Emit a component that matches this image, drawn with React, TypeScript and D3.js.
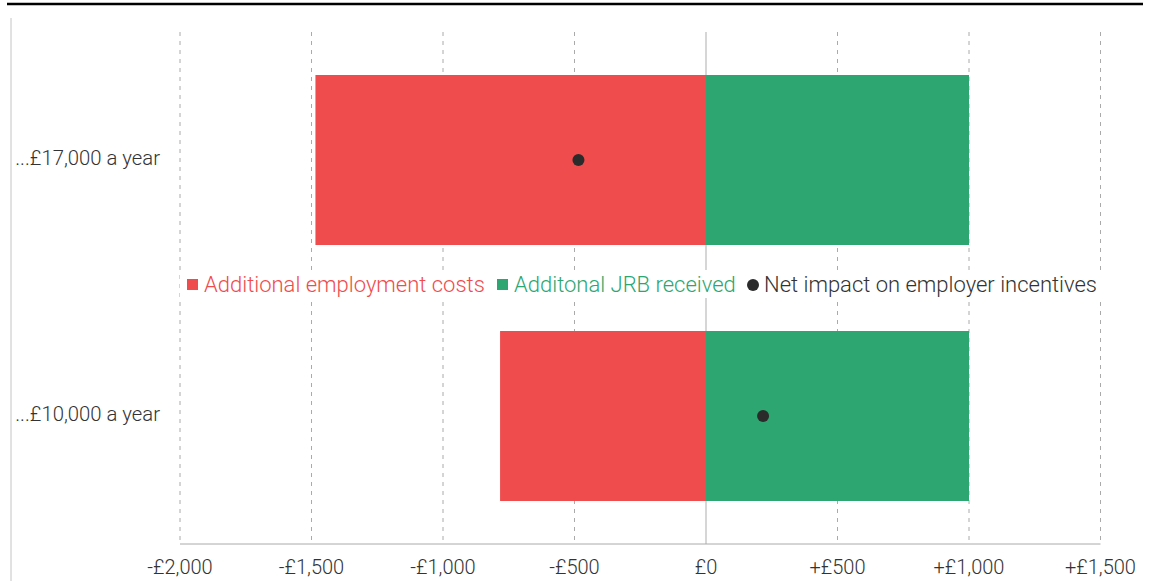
import * as d3 from 'd3';

const categories = ['...£17,000 a year', '...£10,000 a year'];
const employmentCosts = [-1485, -783];
const jrbReceived = [1000, 1000];
const netImpact = [-485, 217];
const tickValues = [-2000, -1500, -1000, -500, 0, 500, 1000, 1500];

const RED = '#ef4c4e';
const GREEN = '#2ea671';
const DARK = '#2b2b2b';
const FONT = 'Roboto, sans-serif';

const fmt = (v: number) => {
  if (v === 0) return '£0';
  const s = d3.format(',')(Math.abs(v));
  return (v < 0 ? '-£' : '+£') + s;
};

export default function App() {
  const width = 1150;
  const height = 581;
  const x = d3.scaleLinear().domain([-2000, 1500]).range([180, 1100.5]);
  const y = d3.scaleBand<string>().domain(categories).range([32, 544]).paddingInner(0.336).paddingOuter(0.168);
  const bw = y.bandwidth();
  const legendY = 284;

  return (
    <svg width={width} height={height} style={{ position: 'absolute', left: 0, top: 0, fontFamily: FONT }}>
      <rect width={width} height={height} fill="#fff" />
      {/* top rule and left border */}
      <line x1={7} x2={1143} y1={4} y2={4} stroke="#000" strokeWidth={2.5} />
      <line x1={11} x2={11} y1={18} y2={581} stroke="#c4c4c4" strokeWidth={1} />

      {/* grid */}
      {tickValues.filter(t => t !== 0).map(t => (
        <line key={t} x1={x(t)} x2={x(t)} y1={32} y2={544} stroke="#aaa" strokeDasharray="4,5" />
      ))}
      <line x1={x(0)} x2={x(0)} y1={32} y2={544} stroke="#bbb" strokeWidth={1.2} />
      <line x1={x(-2000)} x2={x(1500)} y1={544} y2={544} stroke="#aaa" />

      {/* bars */}
      {categories.map((c, i) => (
        <g key={c}>
          <rect x={x(employmentCosts[i])} y={y(c)} width={x(0) - x(employmentCosts[i])} height={bw} fill={RED} />
          <rect x={x(0)} y={y(c)} width={x(jrbReceived[i]) - x(0)} height={bw} fill={GREEN} />
          <circle cx={x(netImpact[i])} cy={(y(c) as number) + bw / 2} r={6} fill={DARK} />
          <text x={160} y={(y(c) as number) + bw / 2 - 2} textAnchor="end" dominantBaseline="central"
            fontSize={20.3} fontWeight={300} fill="#333">{c}</text>
        </g>
      ))}

      {/* legend */}
      <rect x={180} y={270} width={925} height={28} fill="#fff" />
      <rect x={187} y={legendY - 5} width={11} height={11} fill={RED} />
      <text x={204} y={legendY} dominantBaseline="central" fontSize={22} fontWeight={300} fill={RED}>Additional employment costs</text>
      <rect x={497} y={legendY - 5} width={11} height={11} fill={GREEN} />
      <text x={514} y={legendY} dominantBaseline="central" fontSize={22} fontWeight={300} fill={GREEN}>Additonal JRB received</text>
      <circle cx={753} cy={legendY + 1} r={6} fill={DARK} />
      <text x={764} y={legendY} dominantBaseline="central" fontSize={22} fontWeight={300} fill="#333">Net impact on employer incentives</text>

      {/* x axis labels */}
      {tickValues.map(t => (
        <text key={t} x={x(t)} y={567} textAnchor="middle" dominantBaseline="central" fontSize={20} fontWeight={300} fill="#333">{fmt(t)}</text>
      ))}
    </svg>
  );
}
